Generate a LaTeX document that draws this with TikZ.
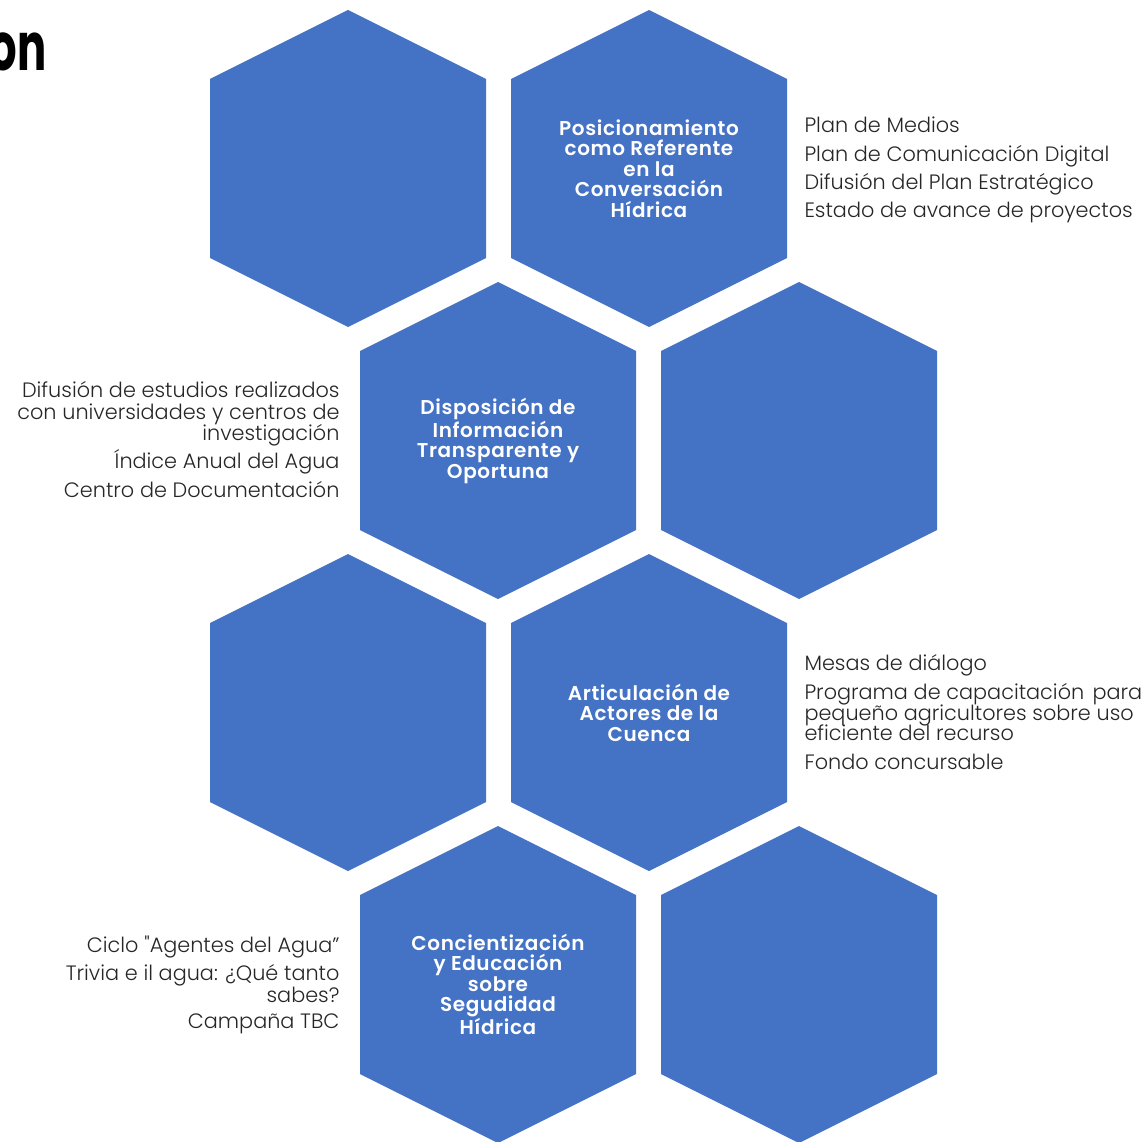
\documentclass[tikz,border=0pt]{standalone}
\usepackage{fontspec}
\setmainfont{Poppins}
\newfontfamily\itemfont{Poppins Light}
\newfontfamily\labelfont{Poppins SemiBold}[LetterSpace=3]
\newfontfamily\titlefont{Poppins}[FakeStretch=0.65]
\definecolor{hexblue}{HTML}{4472C4}
\definecolor{itemgray}{HTML}{262626}
\tikzset{every picture/.style={line width=0.75pt}}
\tikzset{
  hexa/.style={fill=hexblue},
  hexlabel/.style={inner sep=0pt, align=center, text=white, font=\labelfont\fontsize{15}{15.4}\selectfont},
  itemtext/.style={inner sep=0pt, text=itemgray, font=\itemfont\fontsize{15.6}{19}\selectfont},
}

\begin{document}
\begin{tikzpicture}[x=0.75pt,y=0.75pt,yscale=-1,xscale=1]
\useasboundingbox (0,0) rectangle (1144,1141);

% Title (cut at the left edge)
\node [anchor=base east, inner sep=0pt, font=\titlefont\bfseries\fontsize{50}{56}\selectfont] (title) at (47,71) {on};

% Hexagon centres
\coordinate (h1) at (348,168.5);
\coordinate (h2) at (649,168.5);
\coordinate (h3) at (498,440.5);
\coordinate (h4) at (799,440.5);
\coordinate (h5) at (348,712.5);
\coordinate (h6) at (649,712.5);
\coordinate (h7) at (498,984.5);
\coordinate (h8) at (799,984.5);

% Hexagon
\fill [hexa, shift={(h1)}] (0,-158.5) -- (138,-89.5) -- (138,89.5) -- (0,158.5) -- (-138,89.5) -- (-138,-89.5) -- cycle ;
% Hexagon
\fill [hexa, shift={(h2)}] (0,-158.5) -- (138,-89.5) -- (138,89.5) -- (0,158.5) -- (-138,89.5) -- (-138,-89.5) -- cycle ;
% Hexagon
\fill [hexa, shift={(h3)}] (0,-158.5) -- (138,-89.5) -- (138,89.5) -- (0,158.5) -- (-138,89.5) -- (-138,-89.5) -- cycle ;
% Hexagon
\fill [hexa, shift={(h4)}] (0,-158.5) -- (138,-89.5) -- (138,89.5) -- (0,158.5) -- (-138,89.5) -- (-138,-89.5) -- cycle ;
% Hexagon
\fill [hexa, shift={(h5)}] (0,-158.5) -- (138,-89.5) -- (138,89.5) -- (0,158.5) -- (-138,89.5) -- (-138,-89.5) -- cycle ;
% Hexagon
\fill [hexa, shift={(h6)}] (0,-158.5) -- (138,-89.5) -- (138,89.5) -- (0,158.5) -- (-138,89.5) -- (-138,-89.5) -- cycle ;
% Hexagon
\fill [hexa, shift={(h7)}] (0,-158.5) -- (138,-89.5) -- (138,89.5) -- (0,158.5) -- (-138,89.5) -- (-138,-89.5) -- cycle ;
% Hexagon
\fill [hexa, shift={(h8)}] (0,-158.5) -- (138,-89.5) -- (138,89.5) -- (0,158.5) -- (-138,89.5) -- (-138,-89.5) -- cycle ;

% Hexagon labels
\node [hexlabel] (posicion) at (h2) {Posicionamiento\\como Referente\\en la\\Conversación\\Hídrica};
\node [hexlabel] (disposicion) at (h3) {Disposición de\\Información\\Transparente y\\Oportuna};
\node [hexlabel] (articulacion) at (h6) {Articulación de\\Actores de la\\Cuenca};
\node [hexlabel] (concienciacion) at (h7) {Concientización\\y Educación\\sobre\\Segudidad\\Hídrica};

% Text Node
\node [itemtext, anchor=base west] (medios) at (804,133) {Plan de Medios};
\node [itemtext, anchor=base west] (digital) at (804,162) {Plan de Comunicación Digital};
\node [itemtext, anchor=base west] (difusion) at (804,190) {Difusión del Plan Estratégico};
\node [itemtext, anchor=base west] (avance) at (804,218) {Estado de avance de proyectos};

% Text Node
\node [itemtext, anchor=base east] (estudiosa) at (340,397) {Difusión de estudios realizados};
\node [itemtext, anchor=base east] (estudiosb) at (340,419) {con universidades y centros de};
\node [itemtext, anchor=base east] (estudiosc) at (340,440) {investigación};
\node [itemtext, anchor=base east] (indice) at (340,468) {Índice Anual del Agua};
\node [itemtext, anchor=base east] (centro) at (340,497) {Centro de Documentación};

% Text Node
\node [itemtext, anchor=base west] (mesas) at (804,670) {Mesas de diálogo};
\node [itemtext, anchor=base west] (programaa) at (804,699) {Programa de capacitación\hspace{0.4em}para};
\node [itemtext, anchor=base west] (programab) at (804,720) {pequeño agricultores sobre uso};
\node [itemtext, anchor=base west] (programac) at (804,740) {eficiente del recurso};
\node [itemtext, anchor=base west] (fondo) at (804,769) {Fondo concursable};

% Text Node
\node [itemtext, anchor=base east] (ciclo) at (340,952) {Ciclo "Agentes del Agua”};
\node [itemtext, anchor=base east] (triviaa) at (340,980) {Trivia e il agua: ¿Qué tanto};
\node [itemtext, anchor=base east] (triviab) at (340,1002) {sabes?};
\node [itemtext, anchor=base east] (campana) at (340,1028) {Campaña TBC};

\end{tikzpicture}
\end{document}
